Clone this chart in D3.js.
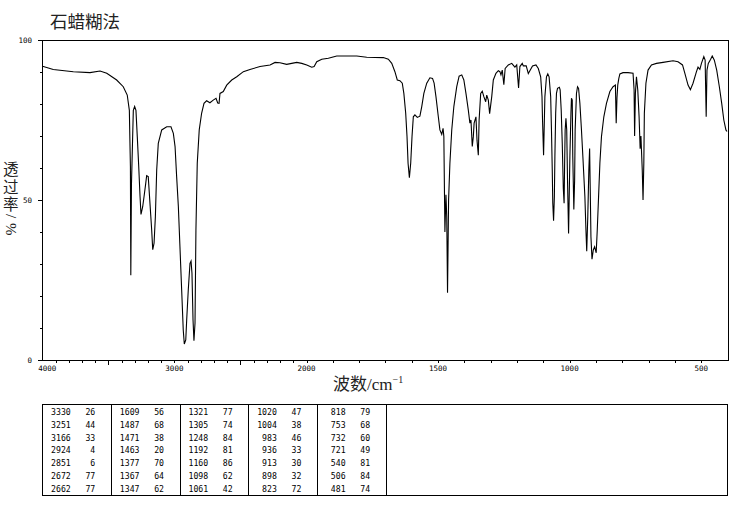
<!DOCTYPE html>
<html><head><meta charset="utf-8">
<script src="https://cdn.jsdelivr.net/npm/d3@7"></script>
<style>body{margin:0;background:#fff} svg{display:block}</style>
</head><body><svg id="c" width="738" height="510"></svg>
<script>
// ---- data ----
const wavenumbers = [4000,3992,3917,3765,3639,3563,3512,3437,3387,3357,3341,3336,3333,3330,3325,3321,3311,3301,3291,3281,3270,3260,3253,3240,3230,3217,3210,3198,3185,3172,3164,3154,3144,3134,3122,3096,3058,3026,3008,2995,2983,2970,2958,2945,2933,2925,2914,2907,2895,2882,2874,2867,2859,2852,2844,2837,2827,2812,2794,2776,2756,2731,2706,2685,2672,2662,2655,2630,2604,2566,2528,2478,2428,2352,2276,2238,2201,2150,2112,2074,2036,1999,1980,1971,1961,1942,1917,1885,1809,1771,1708,1689,1676,1664,1655,1645,1636,1630,1623,1618,1614,1609,1604,1599,1594,1588,1579,1569,1562,1554,1543,1531,1521,1515,1508,1499,1493,1486,1481,1478,1474,1470,1467,1464,1460,1455,1448,1440,1429,1420,1410,1402,1394,1385,1379,1375,1370,1366,1363,1356,1352,1347,1344,1338,1332,1326,1319,1315,1309,1304,1296,1290,1280,1271,1265,1261,1256,1250,1245,1233,1220,1208,1201,1194,1189,1180,1176,1165,1157,1141,1128,1119,1110,1105,1103,1099,1096,1094,1088,1083,1078,1072,1069,1066,1064,1061,1058,1056,1053,1050,1046,1039,1036,1032,1028,1024,1021,1019,1017,1014,1011,1008,1004,1002,999,995,993,990,988,984,981,979,974,970,966,961,955,949,942,938,935,931,927,924,922,919,915,910,905,899,895,890,885,879,870,860,847,835,826,823,820,817,813,809,797,778,759,755,753,750,746,741,736,732,729,724,721,718,716,710,702,689,670,645,607,588,571,562,550,541,531,518,512,505,499,490,485,481,478,473,464,458,450,441,431,422,414,406,402];
const transmittance = [91.8,91.7,90.8,90.1,89.8,90.3,89.6,87.5,85.4,82.8,78,66.7,60.4,26.5,55,61.5,78,79.2,78,69.8,60.4,51,45.5,47.9,51,55.2,57.6,57.3,49,40.6,34.5,36.5,44.8,59.4,67.7,71.9,72.9,72.9,70.8,66.7,57.3,47.9,35.4,21.9,9.4,5,6.25,12.5,21.9,30.2,30.9,27.1,12.5,6,11.5,40.6,61.5,71.9,77.1,80.2,81,80.4,81.2,81.8,80.3,80.2,83.3,83.9,85.9,87.5,88.5,90.1,90.8,91.7,92.2,93,92.9,92.4,92.7,93,92.7,92.2,91.5,91.7,93.2,94,94.3,95,95,94.6,94.5,94,92.7,90.1,87.5,87.3,86.5,83.3,77.1,69.8,61.5,57,61.5,69.8,76,76.6,75.8,76.2,79.2,83.3,86.5,88.2,88,86.5,82.3,76,71.9,70.5,72.4,69.8,40,51.6,44.8,21,50,61.5,71.9,79.2,85.4,88.7,89.1,87.5,83.3,78.1,74,75,66.7,69.8,74,76,68.7,64,75,83.3,84,82.3,80.7,82.8,81.2,77,82.3,87.5,89.6,90.4,90.1,89.1,90.6,86,91.1,92.2,92.7,91.5,92.2,85,91.7,92.7,91.9,91.9,89.5,91.9,92.2,91.1,88.5,82.3,75,64,75,82.3,88.5,89.4,88.5,82.3,71.9,59.4,49,43.5,51,63.5,77.1,83.3,84.9,85.2,84.4,78.1,67.7,53.6,49,61.5,71.9,75.5,71.9,56.2,39.5,49,63.5,77.1,81.8,81.2,63.5,47,56.2,71.9,83.3,85.4,84.9,80.2,71.9,62.5,51,40.6,34,44.8,59.4,66.1,55.2,38.5,31.5,34.4,35.4,33.5,40.6,51,61.5,69.8,76,80.2,83.9,85.4,85.9,74,82,86,88,89.4,89.8,89.8,89.6,84.4,70,83.3,88.5,84.4,76,66,70,59.4,50,61.5,77.1,86.5,90.6,92.2,92.7,93,93.5,93.2,92.2,89.6,85.9,84.5,86.5,90.1,91.5,90.8,92.7,94.8,93.7,76,90.6,92.7,94,95,93.7,90.6,85.4,80.2,75,71.9,71.4];

const xTickLabels = [4000,3000,2000,1500,1000,500];
const yTickLabels = [0,50,100];
const peakWn = ["3330","3251","3166","2924","2851","2672","2662",
                "1609","1487","1471","1463","1377","1367","1347",
                "1321","1305","1248","1192","1160","1098","1061",
                "1020","1004","983","936","913","898","823",
                "818","753","732","721","540","506","481"];
const peakT = ["26","44","33","4","6","77","77",
               "56","68","38","20","70","64","62",
               "77","74","84","81","86","62","42",
               "47","38","46","33","30","32","72",
               "79","68","60","49","81","84","74"];
const titleText = "石蜡糊法";
const xTitle = "波数";
const yTitleChars = "透过率";
const yTitleUnit = "/%";

// ---- drawing ----
const svg = d3.select("#c");
const x = d3.scaleLinear().domain([4000,2000,400]).range([42.3,306.5,727.5]);
const y = d3.scaleLinear().domain([0,100]).range([360,40]);
const mono = "'DejaVu Sans Mono', monospace";

// title
svg.append("text").attr("x",50).attr("y",28).attr("font-family","'Noto Sans CJK SC'")
  .attr("font-size",17.5).attr("fill","#222").text(titleText);

// frame
svg.append("rect").attr("x",Math.round(x(4000))+0.5).attr("y",y(100)+0.5)
  .attr("width",Math.round(x(400))-Math.round(x(4000))).attr("height",y(0)-y(100))
  .attr("fill","none").attr("stroke","#000").attr("stroke-width",1).attr("shape-rendering","crispEdges");

// x ticks
const xt = d3.range(500,4000,100);
svg.append("g").selectAll("line").data(xt).join("line")
  .attr("x1",d=>Math.round(x(d))+0.5).attr("x2",d=>Math.round(x(d))+0.5)
  .attr("y1",y(0)).attr("y2",d=>y(0)+((d===3500||d===2500)?5:2.5))
  .attr("stroke","#000").attr("shape-rendering","crispEdges");
svg.append("g").selectAll("text").data(xTickLabels).join("text")
  .attr("x",d=>x(d)+(d===4000?5:0)).attr("y",y(0)+11).attr("text-anchor","middle")
  .attr("font-family",mono).attr("font-size",7.5).attr("fill","#000").text(d=>d);

// y ticks
const yt = d3.range(0,101,10);
svg.append("g").selectAll("line").data(yt).join("line")
  .attr("x1",d=>Math.round(x(4000))+0.5).attr("x2",d=>Math.round(x(4000))+0.5-(yTickLabels.includes(d)?5:2.5))
  .attr("y1",d=>Math.round(y(d))+0.5).attr("y2",d=>Math.round(y(d))+0.5)
  .attr("stroke","#000").attr("shape-rendering","crispEdges");
svg.append("g").selectAll("text").data(yTickLabels).join("text")
  .attr("x",32).attr("y",d=>y(d)+3).attr("text-anchor","end")
  .attr("font-family",mono).attr("font-size",7.5).attr("fill","#000").text(d=>d);

// axis titles
const xtEl = svg.append("text").attr("x",333).attr("y",390).attr("font-size",17).attr("fill","#222");
xtEl.append("tspan").attr("font-family","'Noto Sans CJK SC'").text(xTitle);
xtEl.append("tspan").attr("font-family","'Liberation Serif'").text("/cm");
xtEl.append("tspan").attr("font-family","'Liberation Serif'").attr("font-size",10).attr("dy",-7).text("−1");

// vertical y title: one text element, CJK upright, unit glyphs rotated
const ytEl = svg.append("text").attr("fill","#222");
ytEl.append("tspan").attr("font-family","'Noto Sans CJK SC'").attr("font-size",15.5)
  .attr("x",[3,3,3].join(" ")).attr("y",[175,192.5,210].join(" ")).text(yTitleChars);
ytEl.append("tspan").attr("font-family","'Liberation Serif'").attr("font-size",15)
  .attr("x","6 6").attr("y","214 223").attr("rotate","90 90").text(yTitleUnit);

// spectrum line
const pts = wavenumbers.map((w,i)=>[w,transmittance[i]]);
svg.append("path").datum(pts)
  .attr("d",d3.line().x(d=>x(d[0])).y(d=>y(d[1])))
  .attr("fill","none").attr("stroke","#000").attr("stroke-width",1.1);

// peak table
const tTop=403.5, tBot=495, tLeft=42.3, tRight=727.3, colW=68.7, rowH=12.9;
const g = svg.append("g").attr("shape-rendering","crispEdges");
g.append("rect").attr("x",tLeft+0.2).attr("y",tTop+0.5).attr("width",tRight-tLeft).attr("height",tBot-tTop)
  .attr("fill","none").attr("stroke","#000");
const nCols = Math.ceil(peakWn.length/7);
g.selectAll("line.div").data(d3.range(1,nCols+1)).join("line").attr("class","div")
  .attr("x1",i=>Math.round(tLeft+i*colW)+0.5).attr("x2",i=>Math.round(tLeft+i*colW)+0.5)
  .attr("y1",tTop).attr("y2",tBot).attr("stroke","#000");
const cells = peakWn.map((w,i)=>({w, t:peakT[i], c:Math.floor(i/7), r:i%7}));
svg.append("g").selectAll("text.w").data(cells).join("text").attr("class","w")
  .attr("x",d=>tLeft+d.c*colW+28.5).attr("y",d=>411.5+d.r*rowH+3.2).attr("text-anchor","end")
  .attr("font-family",mono).attr("font-size",8.2).attr("fill","#000").text(d=>d.w);
svg.append("g").selectAll("text.t").data(cells).join("text").attr("class","t")
  .attr("x",d=>tLeft+d.c*colW+53).attr("y",d=>411.5+d.r*rowH+3.2).attr("text-anchor","end")
  .attr("font-family",mono).attr("font-size",8.2).attr("fill","#000").text(d=>d.t);
</script></body></html>
